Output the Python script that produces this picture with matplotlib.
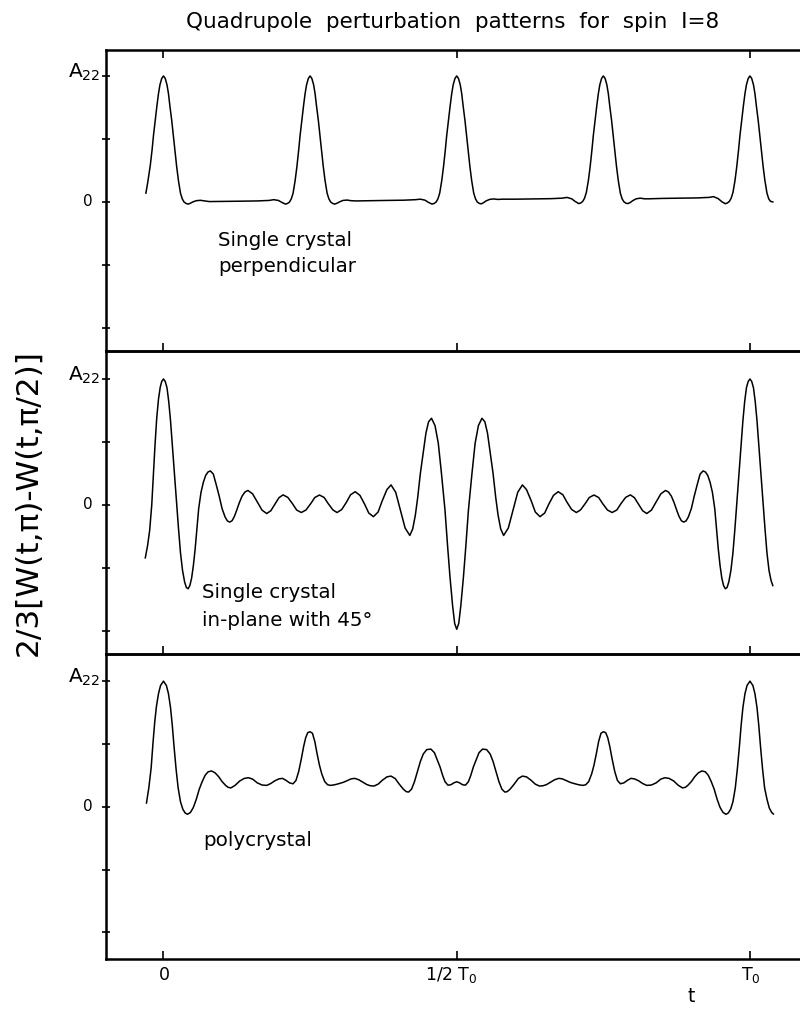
import numpy as np
import matplotlib
matplotlib.use("Agg")
import matplotlib.pyplot as plt

# values, t in units of T0, signal in units of A22
perp_pts = [
    (-0.030, 0.07), (-0.027, 0.15), (-0.0225, 0.29), (-0.0195, 0.41), (-0.017, 0.53), (-0.014, 0.65),
    (-0.011, 0.77), (-0.0085, 0.86), (-0.006, 0.93), (-0.003, 0.98), (0.0, 1.0), (0.003, 0.98),
    (0.006, 0.93), (0.0085, 0.86), (0.011, 0.76), (0.014, 0.65), (0.017, 0.52), (0.0195, 0.41),
    (0.0225, 0.28), (0.0255, 0.17), (0.029, 0.07), (0.032, 0.025), (0.035, 0.0), (0.0385, -0.012),
    (0.042, -0.017), (0.046, -0.01), (0.050, 0.0), (0.056, 0.01), (0.063, 0.013), (0.070, 0.008),
    (0.078, 0.003), (0.10, 0.004), (0.13, 0.006), (0.16, 0.008), (0.180, 0.012), (0.188, 0.018),
    (0.196, 0.012), (0.202, -0.004), (0.208, -0.017), (0.2115, -0.012), (0.215, 0.0), (0.218, 0.025),
    (0.221, 0.07), (0.2245, 0.17), (0.2275, 0.28), (0.2305, 0.41), (0.233, 0.53), (0.236, 0.65),
    (0.239, 0.77), (0.2415, 0.86), (0.244, 0.93), (0.247, 0.98), (0.25, 1.0), (0.253, 0.98),
    (0.256, 0.93), (0.2585, 0.86), (0.261, 0.76), (0.264, 0.65), (0.267, 0.52), (0.2695, 0.41),
    (0.2725, 0.28), (0.2755, 0.17), (0.279, 0.07), (0.282, 0.025), (0.285, 0.0), (0.2885, -0.012),
    (0.292, -0.017), (0.296, -0.01), (0.300, 0.0), (0.306, 0.012), (0.313, 0.015), (0.320, 0.01),
    (0.328, 0.008), (0.35, 0.01), (0.38, 0.012), (0.41, 0.014), (0.430, 0.018), (0.438, 0.022),
    (0.446, 0.014), (0.452, -0.004), (0.458, -0.017), (0.4615, -0.012), (0.465, 0.0), (0.468, 0.025),
    (0.471, 0.07), (0.4745, 0.17), (0.4775, 0.28), (0.4805, 0.41), (0.483, 0.53), (0.486, 0.65),
    (0.489, 0.77), (0.4915, 0.86), (0.494, 0.93), (0.497, 0.98), (0.5, 1.0), (0.503, 0.98),
    (0.506, 0.93), (0.5085, 0.86), (0.511, 0.76), (0.514, 0.65), (0.517, 0.52), (0.5195, 0.41),
    (0.5225, 0.28), (0.5255, 0.17), (0.529, 0.07), (0.532, 0.025), (0.535, 0.0), (0.5385, -0.012),
    (0.542, -0.015), (0.546, -0.005), (0.550, 0.008), (0.556, 0.02), (0.563, 0.024), (0.570, 0.02),
    (0.578, 0.022), (0.60, 0.022), (0.63, 0.024), (0.66, 0.026), (0.680, 0.03), (0.688, 0.036),
    (0.696, 0.025), (0.702, 0.004), (0.708, -0.013), (0.7115, -0.008), (0.715, 0.005), (0.718, 0.03),
    (0.721, 0.075), (0.7245, 0.17), (0.7275, 0.28), (0.7305, 0.41), (0.733, 0.53), (0.736, 0.65),
    (0.739, 0.77), (0.7415, 0.86), (0.744, 0.93), (0.747, 0.98), (0.75, 1.0), (0.753, 0.98),
    (0.756, 0.93), (0.7585, 0.86), (0.761, 0.76), (0.764, 0.65), (0.767, 0.52), (0.7695, 0.41),
    (0.7725, 0.28), (0.7755, 0.17), (0.779, 0.07), (0.782, 0.025), (0.785, 0.002), (0.7885, -0.01),
    (0.792, -0.013), (0.796, -0.004), (0.800, 0.01), (0.806, 0.025), (0.813, 0.03), (0.820, 0.025),
    (0.828, 0.025), (0.85, 0.028), (0.88, 0.03), (0.91, 0.032), (0.930, 0.036), (0.938, 0.042),
    (0.946, 0.026), (0.952, 0.002), (0.958, -0.014), (0.9615, -0.008), (0.965, 0.005), (0.968, 0.03),
    (0.971, 0.075), (0.9745, 0.17), (0.9775, 0.28), (0.9805, 0.41), (0.983, 0.53), (0.986, 0.65),
    (0.989, 0.77), (0.9915, 0.86), (0.994, 0.93), (0.997, 0.98), (1.0, 1.0), (1.003, 0.98),
    (1.006, 0.93), (1.0085, 0.86), (1.011, 0.76), (1.014, 0.65), (1.017, 0.52), (1.0195, 0.41),
    (1.0225, 0.28), (1.0255, 0.17), (1.029, 0.07), (1.032, 0.025), (1.035, 0.005), (1.039, 0.0),
]

inplane_pts = [
    (-0.031, -0.42), (-0.027, -0.32), (-0.0235, -0.2), (-0.020, 0.0), (-0.017, 0.26), (-0.0145, 0.47),
    (-0.0115, 0.69), (-0.0085, 0.84), (-0.0055, 0.935), (-0.003, 0.98), (0.0, 1.0),
    (0.003, 0.98), (0.006, 0.93), (0.009, 0.82), (0.012, 0.67), (0.015, 0.48), (0.0185, 0.27),
    (0.022, 0.04), (0.0255, -0.18), (0.029, -0.38), (0.0325, -0.52), (0.036, -0.61), (0.039, -0.655),
    (0.042, -0.665), (0.045, -0.64), (0.048, -0.58), (0.051, -0.48), (0.054, -0.35), (0.057, -0.19),
    (0.060, -0.03), (0.064, 0.1), (0.068, 0.18), (0.072, 0.235), (0.076, 0.262), (0.080, 0.27),
    (0.085, 0.245), (0.090, 0.16), (0.095, 0.07), (0.100, -0.03), (0.105, -0.095), (0.109, -0.127),
    (0.113, -0.136), (0.117, -0.125), (0.121, -0.09), (0.125, -0.04), (0.1295, 0.02), (0.134, 0.07),
    (0.139, 0.103), (0.144, 0.115), (0.152, 0.088), (0.160, 0.024), (0.168, -0.041), (0.176, -0.068),
    (0.183, -0.046), (0.190, 0.006), (0.197, 0.058), (0.204, 0.08), (0.212, 0.06), (0.220, 0.01),
    (0.227, -0.04), (0.235, -0.06), (0.243, -0.04), (0.251, 0.01), (0.258, 0.059), (0.266, 0.079),
    (0.274, 0.059), (0.281, 0.01), (0.289, -0.04), (0.296, -0.06), (0.304, -0.036), (0.312, 0.022),
    (0.319, 0.081), (0.327, 0.105), (0.335, 0.076), (0.343, 0.006), (0.350, -0.064), (0.358, -0.093),
    (0.366, -0.056), (0.373, 0.033), (0.381, 0.122), (0.388, 0.159), (0.396, 0.1), (0.404, -0.042),
    (0.412, -0.183), (0.420, -0.242), (0.425, -0.19), (0.4295, -0.08), (0.4335, 0.06), (0.438, 0.25),
    (0.443, 0.42), (0.4475, 0.57), (0.452, 0.66), (0.457, 0.688), (0.463, 0.63), (0.4686, 0.49),
    (0.474, 0.25), (0.480, -0.04), (0.4845, -0.33), (0.4885, -0.57), (0.493, -0.80), (0.4965, -0.94),
    (0.500, -0.987), (0.5035, -0.94), (0.507, -0.80), (0.5115, -0.57), (0.5155, -0.33), (0.520, -0.04),
    (0.526, 0.25), (0.5314, 0.49), (0.537, 0.63), (0.543, 0.688), (0.548, 0.66), (0.5525, 0.57),
    (0.557, 0.42), (0.562, 0.25), (0.5665, 0.06), (0.5705, -0.08), (0.575, -0.19), (0.580, -0.242),
    (0.588, -0.183), (0.596, -0.042), (0.604, 0.1), (0.612, 0.159), (0.619, 0.122), (0.627, 0.033),
    (0.634, -0.056), (0.642, -0.093), (0.650, -0.064), (0.657, 0.006), (0.665, 0.076), (0.673, 0.105),
    (0.681, 0.081), (0.688, 0.022), (0.696, -0.036), (0.704, -0.06), (0.711, -0.04), (0.719, 0.01),
    (0.726, 0.059), (0.734, 0.079), (0.742, 0.059), (0.749, 0.01), (0.757, -0.04), (0.765, -0.06),
    (0.773, -0.04), (0.780, 0.01), (0.788, 0.06), (0.796, 0.08), (0.803, 0.058), (0.810, 0.006),
    (0.817, -0.046), (0.824, -0.068), (0.832, -0.041), (0.840, 0.024), (0.848, 0.088), (0.856, 0.115),
    (0.861, 0.103), (0.866, 0.07), (0.8705, 0.02), (0.875, -0.04), (0.879, -0.09), (0.883, -0.125),
    (0.887, -0.136), (0.891, -0.127), (0.895, -0.095), (0.900, -0.03), (0.905, 0.07), (0.910, 0.16),
    (0.915, 0.245), (0.920, 0.27), (0.924, 0.262), (0.928, 0.235), (0.932, 0.18), (0.936, 0.1),
    (0.940, -0.03), (0.943, -0.19), (0.946, -0.35), (0.949, -0.48), (0.952, -0.58), (0.955, -0.64),
    (0.958, -0.665), (0.961, -0.655), (0.964, -0.61), (0.9675, -0.52), (0.971, -0.38), (0.9745, -0.18),
    (0.978, 0.04), (0.9815, 0.27), (0.985, 0.48), (0.988, 0.67), (0.991, 0.82), (0.994, 0.93),
    (0.997, 0.98), (1.0, 1.0), (1.003, 0.98), (1.006, 0.93), (1.009, 0.82), (1.012, 0.67),
    (1.015, 0.48), (1.0185, 0.27), (1.022, 0.04), (1.0255, -0.18), (1.029, -0.38), (1.0325, -0.52),
    (1.036, -0.60), (1.039, -0.64),
]

poly_pts = [
    (-0.029, 0.03), (-0.025, 0.15), (-0.021, 0.31), (-0.018, 0.5), (-0.015, 0.67), (-0.012, 0.8),
    (-0.0085, 0.9), (-0.005, 0.965), (0.0, 1.0), (0.005, 0.965), (0.0085, 0.9), (0.012, 0.79),
    (0.015, 0.65), (0.018, 0.48), (0.0215, 0.3), (0.025, 0.15), (0.029, 0.04), (0.033, -0.02),
    (0.037, -0.05), (0.041, -0.06), (0.046, -0.045), (0.051, -0.005), (0.056, 0.06), (0.061, 0.14),
    (0.066, 0.2), (0.071, 0.25), (0.076, 0.278), (0.082, 0.285), (0.088, 0.27), (0.094, 0.24),
    (0.100, 0.2), (0.106, 0.17), (0.110, 0.155), (0.115, 0.15), (0.122, 0.17), (0.130, 0.205),
    (0.138, 0.226), (0.145, 0.231), (0.152, 0.22), (0.160, 0.19), (0.168, 0.173), (0.176, 0.17),
    (0.183, 0.185), (0.190, 0.207), (0.197, 0.222), (0.203, 0.226), (0.209, 0.21), (0.215, 0.19),
    (0.221, 0.183), (0.226, 0.21), (0.2305, 0.28), (0.235, 0.38), (0.239, 0.48), (0.2425, 0.55),
    (0.246, 0.59), (0.25, 0.597), (0.254, 0.585), (0.258, 0.52), (0.262, 0.42), (0.266, 0.33),
    (0.270, 0.26), (0.275, 0.2), (0.280, 0.175), (0.285, 0.17), (0.292, 0.175), (0.300, 0.185),
    (0.307, 0.195), (0.314, 0.21), (0.320, 0.222), (0.326, 0.226), (0.333, 0.215), (0.340, 0.195),
    (0.347, 0.176), (0.353, 0.167), (0.359, 0.165), (0.366, 0.18), (0.373, 0.21), (0.381, 0.238),
    (0.388, 0.244), (0.395, 0.225), (0.402, 0.18), (0.409, 0.14), (0.414, 0.12), (0.418, 0.117),
    (0.423, 0.14), (0.428, 0.2), (0.433, 0.28), (0.438, 0.36), (0.443, 0.42), (0.449, 0.455),
    (0.456, 0.459), (0.462, 0.43), (0.467, 0.37), (0.4715, 0.318), (0.476, 0.25), (0.480, 0.2),
    (0.485, 0.172), (0.490, 0.175), (0.495, 0.19), (0.5, 0.199), (0.505, 0.19), (0.510, 0.175),
    (0.515, 0.172), (0.520, 0.2), (0.524, 0.25), (0.5285, 0.318), (0.533, 0.37), (0.538, 0.43),
    (0.544, 0.459), (0.551, 0.455), (0.557, 0.42), (0.562, 0.36), (0.567, 0.28), (0.572, 0.2),
    (0.577, 0.14), (0.582, 0.117), (0.586, 0.12), (0.591, 0.14), (0.598, 0.18), (0.605, 0.225),
    (0.612, 0.244), (0.619, 0.238), (0.627, 0.21), (0.634, 0.18), (0.641, 0.165), (0.647, 0.167),
    (0.653, 0.176), (0.660, 0.195), (0.667, 0.215), (0.674, 0.226), (0.680, 0.222), (0.686, 0.21),
    (0.693, 0.195), (0.700, 0.185), (0.708, 0.175), (0.715, 0.17), (0.720, 0.175), (0.725, 0.2),
    (0.730, 0.26), (0.734, 0.33), (0.738, 0.42), (0.742, 0.52), (0.746, 0.585), (0.75, 0.597),
    (0.754, 0.59), (0.7575, 0.55), (0.761, 0.48), (0.765, 0.38), (0.7695, 0.28), (0.774, 0.21),
    (0.779, 0.183), (0.785, 0.19), (0.791, 0.21), (0.797, 0.226), (0.803, 0.222), (0.810, 0.207),
    (0.817, 0.185), (0.824, 0.17), (0.832, 0.173), (0.840, 0.19), (0.848, 0.22), (0.855, 0.231),
    (0.862, 0.226), (0.870, 0.205), (0.878, 0.17), (0.885, 0.15), (0.890, 0.155), (0.894, 0.17),
    (0.900, 0.2), (0.906, 0.24), (0.912, 0.27), (0.918, 0.285), (0.924, 0.278), (0.929, 0.25),
    (0.934, 0.2), (0.939, 0.14), (0.944, 0.06), (0.949, -0.005), (0.954, -0.045), (0.959, -0.06),
    (0.963, -0.05), (0.967, -0.02), (0.971, 0.04), (0.975, 0.15), (0.9785, 0.3), (0.982, 0.48),
    (0.985, 0.65), (0.988, 0.79), (0.9915, 0.9), (0.995, 0.965), (1.0, 1.0), (1.005, 0.965),
    (1.0085, 0.9), (1.012, 0.79), (1.015, 0.65), (1.018, 0.48), (1.0215, 0.3), (1.025, 0.15),
    (1.029, 0.06), (1.033, -0.01), (1.037, -0.045), (1.04, -0.058),
]

panel_labels = ["Single crystal\nperpendicular", "Single crystal\nin-plane with 45°", "polycrystal"]
x_ticks = [0, 0.5, 1.0]
x_ticklabels = ["0", "1/2 T$_0$", "T$_0$"]
y_ticks = [-1, -0.5, 0, 0.5, 1]

plt.rcParams["font.family"] = ["DejaVu Sans"]
plt.rcParams["mathtext.default"] = "regular"

W, H = 800, 1015
fig = plt.figure(figsize=(W / 100, H / 100), dpi=100)

# panel frames in pixels (top, bottom) and the y range each one shows
frames = [(50, 351), (351, 654), (654, 959)]
ylims = [(-1.183, 1.206), (-1.183, 1.222), (-1.212, 1.216)]
label_pos = [(218, [241, 266]), (202, [593, 620]), (203, [840])]

for i, pts in enumerate([perp_pts, inplane_pts, poly_pts]):
    top, bot = frames[i]
    ax = fig.add_axes([106 / W, 1 - bot / H, 702.6 / W, (bot - top) / H])
    ax.set_facecolor("none")
    t, a = np.array(pts).T
    ax.plot(t, a, color="black", lw=1.1)
    ax.set_xlim(-0.098, 1.10)
    ax.set_ylim(*ylims[i])
    ax.set_yticks(y_ticks)
    ax.set_yticklabels([])
    ax.set_xticks(x_ticks)
    ax.set_xticklabels([])
    ax.tick_params(axis="y", direction="inout", length=6, width=1.2)
    ax.tick_params(axis="x", direction="in", length=6, width=1.2, top=(i == 0))
    for s in ax.spines.values():
        s.set_linewidth(1.8)

    # y tick labels A22 and 0
    y0 = ax.transData.transform((0, 0))[1]
    y1 = ax.transData.transform((0, 1))[1]
    fig.text(100 / W, (y1 - 1.5) / H, "A$_{22}$", ha="right", va="baseline", fontsize=14.5)
    fig.text(93 / W, y0 / H, "0", ha="right", va="center", fontsize=11)

    lx, lys = label_pos[i]
    for line, ly in zip(panel_labels[i].split("\n"), lys):
        fig.text(lx / W, 1 - ly / H, line, ha="left", va="center", fontsize=14.3)

# x tick labels under the bottom panel
for xt, lab, xc in zip(x_ticks, x_ticklabels, [164, 451, 751]):
    fig.text(xc / W, 1 - 975 / H, lab, ha="center", va="center", fontsize=12.5)
fig.text(691 / W, 1 - 996 / H, "t", ha="center", va="center", fontsize=13.5)

fig.text(453 / W, 1 - 22 / H, "Quadrupole  perturbation  patterns  for  spin  I=8",
         ha="center", va="center", fontsize=15.5)
fig.text(28 / W, 1 - 503 / H, "2/3[W(t,π)-W(t,π/2)]", rotation=90,
         ha="center", va="center", fontsize=22.5)

fig.savefig("out.png", dpi=100, facecolor="white")
